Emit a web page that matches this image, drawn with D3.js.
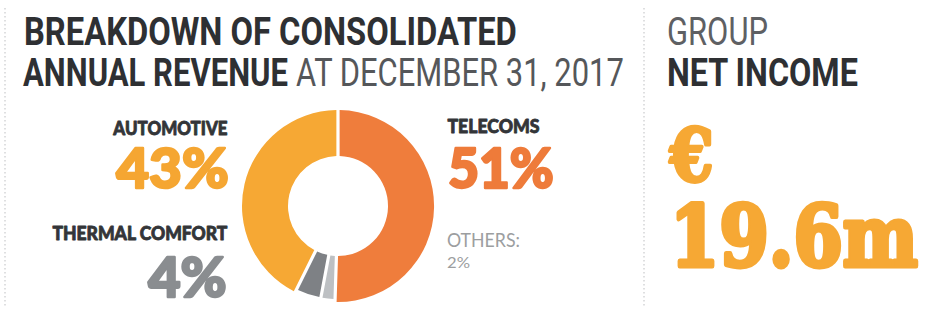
<!DOCTYPE html>
<html>
<head>
<meta charset="utf-8">
<script src="https://cdn.jsdelivr.net/npm/d3@7"></script>
<style>
  html, body { margin: 0; padding: 0; background: #ffffff; }
  svg { display: block; }
</style>
</head>
<body>
<svg id="chart" width="926" height="313"></svg>
<script>
// ---- data ----
const categories = ["TELECOMS", "OTHERS:", "THERMAL COMFORT", "AUTOMOTIVE"];
const shares = [51, 2, 4, 43];
const titleLine1 = "BREAKDOWN OF CONSOLIDATED";
const titleLine2Bold = "ANNUAL REVENUE";
const titleLine2Light = "AT DECEMBER 31, 2017";
const kpiLabelLight = "GROUP";
const kpiLabelBold = "NET INCOME";
const kpiCurrency = "€";
const kpiValue = "19.6m";

// ---- styles ----
const palette = ["#EF7D3C", "#BDC0C3", "#7E8185", "#F6A834"];
const pctColors = ["#EE7B3A", "#9C9EA0", "#8A8D90", "#F5A632"];

const svg = d3.select("#chart");

// Draws text whose left (or right) edge sits at x and whose width is len,
// scaling horizontally so the on-screen box matches.
function txt(str, x, y, opt) {
  const g = svg.append("g");
  const t = g.append("text")
    .attr("x", 0).attr("y", 0)
    .attr("font-family", opt.family || "Roboto, sans-serif")
    .attr("font-weight", opt.weight || 400)
    .attr("font-size", opt.size)
    .attr("fill", opt.color)
    .text(str);
  if (opt.stroke) {
    t.attr("stroke", opt.color).attr("stroke-width", opt.stroke)
     .attr("stroke-linejoin", "round").style("paint-order", "stroke");
  }
  const natural = t.node().getComputedTextLength() + (opt.stroke || 0);
  const sx = opt.len ? opt.len / natural : 1;
  const w = natural * sx;
  const left = opt.anchor === "end" ? x - w : x;
  const off = (opt.stroke || 0) / 2;
  t.attr("x", off);
  g.attr("transform", `translate(${left},${y}) scale(${sx},1)`);
  return t;
}

// dotted separators
[5, 644].forEach(x => {
  svg.append("line")
    .attr("x1", x).attr("x2", x).attr("y1", 8).attr("y2", 308)
    .attr("stroke", "#c9cacc").attr("stroke-width", 1.2)
    .attr("stroke-dasharray", "1.5,2.5");
});

// title
txt(titleLine1, 24, 45, {weight: 700, size: 38, color: "#2E3033", len: 493});
txt(titleLine2Bold, 23, 86, {weight: 700, size: 38, color: "#2E3033", len: 265});
txt(titleLine2Light, 296, 86, {weight: 400, size: 38, color: "#55575A", len: 328});

// right panel
txt(kpiLabelLight, 667, 45, {weight: 400, size: 38, color: "#5E6063", len: 101});
txt(kpiLabelBold, 667, 86, {weight: 700, size: 38, color: "#2E3033", len: 191});
txt(kpiCurrency, 668, 181, {family: "'DejaVu Serif', serif", weight: 700, size: 72, color: "#F6A834", len: 47, stroke: 4});
txt(kpiValue, 668, 266, {family: "'DejaVu Serif', serif", weight: 700, size: 84, color: "#F6A834", len: 252, stroke: 5});

// donut
const cx = 338, cy = 206, rOuter = 96, rInner = 50;
const pie = d3.pie().sort(null).value(d => d).padAngle(0.03);
const arcs = pie(shares);
const g = svg.append("g").attr("transform", `translate(${cx},${cy})`);
g.selectAll("path").data(arcs).enter().append("path")
  .attr("d", (d, i) => d3.arc()
      .innerRadius(rInner)
      .outerRadius(shares[i] < 10 ? rOuter - 3 : rOuter)(d))
  .attr("fill", (d, i) => palette[i]);

// labels
const fmt = v => v + "%";
const labelFont = "Lato, 'Noto Sans', sans-serif";
// telecoms (index 0)
txt(categories[0], 447, 133, {family: labelFont, weight: 900, size: 18, color: "#333538", len: 93, stroke: 0.8});
txt(fmt(shares[0]), 447, 188, {family: labelFont, weight: 900, size: 56, color: pctColors[0], len: 108, stroke: 2.5});
// others (index 1)
txt(categories[1], 447, 247, {family: labelFont, weight: 400, size: 19, color: pctColors[1], len: 73});
txt(fmt(shares[1]), 447, 268, {family: labelFont, weight: 400, size: 15, color: pctColors[1], len: 23});
// automotive (index 3)
txt(categories[3], 228, 135, {family: labelFont, weight: 900, size: 18, color: "#333538", anchor: "end", len: 115, stroke: 0.8});
txt(fmt(shares[3]), 230, 188, {family: labelFont, weight: 900, size: 56, color: pctColors[3], anchor: "end", len: 115, stroke: 2.5});
// thermal comfort (index 2)
txt(categories[2], 228, 240, {family: labelFont, weight: 900, size: 18, color: "#333538", anchor: "end", len: 176, stroke: 0.8});
txt(fmt(shares[2]), 228, 297, {family: labelFont, weight: 900, size: 56, color: pctColors[2], anchor: "end", len: 81, stroke: 2.5});
</script>
</body>
</html>
